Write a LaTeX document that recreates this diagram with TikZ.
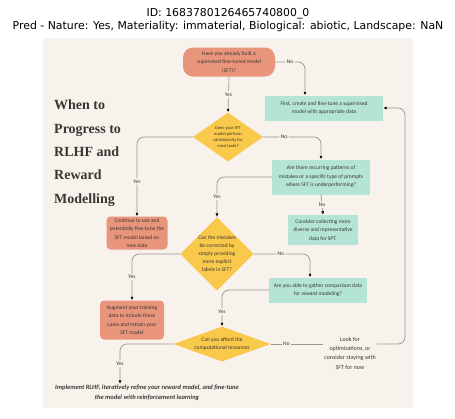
\documentclass[tikz,border=0pt]{standalone}
\usepackage{fontspec}
\setmainfont{Carlito}
\newfontfamily\headfont{Liberation Serif}
\newfontfamily\idfont{DejaVu Sans}
\usepackage{tikz}
\usetikzlibrary{positioning,shapes.geometric,arrows.meta}

\definecolor{paper}{HTML}{F8F2EC}
\definecolor{salmon}{HTML}{E8957C}
\definecolor{mint}{HTML}{B4E4D6}
\definecolor{sun}{HTML}{F9C94C}
\definecolor{wire}{HTML}{9B9590}
\definecolor{ink}{HTML}{3B3632}

\begin{document}
\begin{tikzpicture}[
    x=1pt, y=-1pt,
    every node/.style={font=\fontsize{5.5}{8.5}\selectfont, text=ink, align=center, inner sep=1pt},
    salmonbox/.style={rectangle, rounded corners=4pt, fill=salmon},
    mintbox/.style={rectangle, fill=mint},
    choice/.style={diamond, fill=sun, inner sep=0pt},
    flow/.style={draw=wire, line width=0.7pt, rounded corners=7pt,
      -{Latex[length=3.5pt,width=3pt,color=black]}},
    tag/.style={fill=paper, inner sep=1.5pt}
  ]

  % Canvas
  \useasboundingbox (0,0) rectangle (455,418);
  \fill[white] (0,0) rectangle (455,418);
  \fill[paper] (43,38) rectangle (413,408);

  % Caption above the image
  \node[font=\idfont\fontsize{10.9}{12.5}\selectfont, text=black] (caption) at (228,20)
    {ID: 1683780126465740800\_0\\Pred - Nature: Yes, Materiality: immaterial, Biological: abiotic, Landscape: NaN};

  % Heading
  \node[font=\headfont\bfseries\fontsize{14}{23.3}\selectfont, align=left, anchor=north west] (head) at (53,99)
    {When to\\Progress to\\RLHF and\\Reward\\Modelling};

  % Boxes
  \node[salmonbox, rounded corners=10pt, minimum width=92pt, minimum height=29pt] (built) at (229,62)
    {Have you already built a\\supervised fine-tuned model\\(SFT)?};
  \node[mintbox, minimum width=118pt, minimum height=25pt] (first) at (324,108)
    {First, create and fine-tune a supervised\\model with appropriate data};
  \node[choice, aspect=1.4, minimum width=70pt, minimum height=49pt,
    font=\fontsize{4.5}{6}\selectfont] (satis) at (228,137)
    {Does your SFT\\model perform\\satisfactorily for\\most tasks?};
  \node[salmonbox, minimum width=61pt, minimum height=33pt] (cont) at (137,233)
    {Continue to use and\\potentially fine-tune the\\SFT model based on\\new data};
  \node[mintbox, minimum width=98pt, minimum height=35pt] (pattern) at (321,177)
    {Are there recurring patterns of\\mistakes or a specific type of prompts\\where SFT is underperforming?};
  \node[mintbox, minimum width=70pt, minimum height=30pt] (collect) at (323,230)
    {Consider collecting more\\diverse and representative\\data for SPT.};
  \node[choice, aspect=1, minimum width=73pt, minimum height=73pt,
    font=\fontsize{5.5}{8}\selectfont] (fixable) at (217,254)
    {Can the mistakes\\be corrected by\\simply providing\\more explicit\\labels in SFT?};
  \node[mintbox, minimum width=98pt, minimum height=25pt] (gather) at (318,290)
    {Are you able to gather comparison data\\for reward modeling?};
  \node[salmonbox, minimum width=64pt, minimum height=39pt] (augment) at (132,320)
    {Augment your training\\data to include these\\cases and retrain your\\SFT model};
  \node[choice, aspect=2.8, minimum width=97pt, minimum height=35pt] (afford) at (222,344)
    {Can you afford the\\computational resources};
  \node[font=\fontsize{6}{9.3}\selectfont] (look) at (350,353)
    {Look for\\optimizations, or\\consider staying with\\SFT for now};
  \node[font=\bfseries\itshape\fontsize{6.5}{10}\selectfont] (rlhf) at (147,393)
    {Implement RLHF, iteratively refine your reward model, and fine-tune\\the model with reinforcement learning};

  % Connectors
  \coordinate (back) at (405,344);
  \draw[flow] (built.south) -- node[tag] {Yes} (satis.north);
  \draw[flow] (built.east) -| node[tag, pos=0.25] {No} ([xshift=-19pt]first.north);
  \draw[flow] (satis.west) -| node[tag, pos=0.78] {Yes} (cont.north);
  \draw[flow] (satis.east) -| node[tag, pos=0.18] {No} (pattern.north);
  \draw[flow] (pattern.west) -| node[tag, pos=0.75] {Yes} (fixable.north);
  \draw[flow] (pattern.south) -- node[tag] {No} (collect.north);
  \draw[flow] (fixable.east) -| node[tag, pos=0.24] {No} ([xshift=-8pt]gather.north);
  \draw[flow] (fixable.west) -| node[tag, pos=0.75] {Yes} (augment.north);
  \draw[flow] (gather.west) -| node[tag, pos=0.8] {Yes} (afford.north);
  \draw[draw=wire, line width=0.7pt] (afford.east) -- node[tag, pos=0.3] {No} (afford.east -| look.west);
  \draw[flow] (afford.east -| look.east) -- (back) |- (first.east);
  \draw[flow] (afford.west) -| node[tag, pos=0.75] {Yes} ([xshift=-27pt]rlhf.north);

\end{tikzpicture}
\end{document}
